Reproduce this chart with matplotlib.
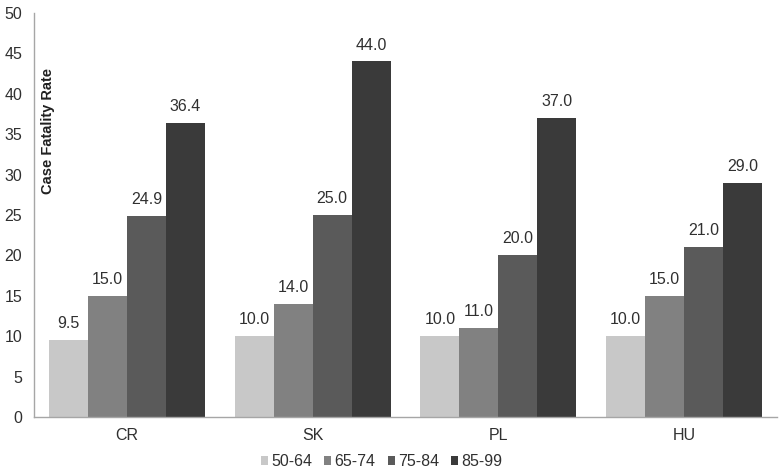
import matplotlib
matplotlib.use("Agg")
import matplotlib.pyplot as plt
import numpy as np

countries = ["CR", "SK", "PL", "HU"]
age_groups = ["50-64", "65-74", "75-84", "85-99"]
v_50_64 = [9.5, 10.0, 10.0, 10.0]
v_65_74 = [15.0, 14.0, 11.0, 15.0]
v_75_84 = [24.9, 25.0, 20.0, 21.0]
v_85_99 = [36.4, 44.0, 37.0, 29.0]
series = [v_50_64, v_65_74, v_75_84, v_85_99]
colors = ["#c8c8c8", "#818181", "#5a5a5a", "#3a3a3a"]

plt.rcParams['font.family'] = ['Liberation Sans', 'DejaVu Sans']

fig = plt.figure(figsize=(7.82, 4.76), dpi=100)
ax = fig.add_axes([0.0435, 0.124, 0.950, 0.8487])

x = np.arange(len(countries))
bw = 0.21
for i, (vals, c, lab) in enumerate(zip(series, colors, age_groups)):
    pos = x + (i - 1.5) * bw
    ax.bar(pos, vals, width=bw, color=c, label=lab, zorder=2)
    for p, v in zip(pos, vals):
        ax.text(p, v + 1.1, f"{v:.1f}", ha="center", va="bottom",
                fontsize=11.5, color="#303030")

ax.set_xlim(-0.5, len(countries) - 0.5)
ax.set_ylim(0, 50)
ax.set_yticks(np.arange(0, 51, 5))
ax.set_xticks(x)
ax.set_xticklabels(countries)
ax.tick_params(axis="both", length=0, labelsize=11.5, labelcolor="#303030")
ax.tick_params(axis="x", pad=8)
ax.tick_params(axis="y", pad=8.5)
for s in ["top", "right"]:
    ax.spines[s].set_visible(False)
for s in ["left", "bottom"]:
    ax.spines[s].set_color("#a6a6a6")
    ax.spines[s].set_linewidth(1)

ax.text(0.019, 0.708, "Case Fatality Rate", transform=ax.transAxes,
        rotation=90, ha="center", va="center", fontsize=10.5,
        fontweight="bold", color="#202020")

leg = fig.legend(loc="center", bbox_to_anchor=(0.488, 0.03), ncol=4,
                 frameon=False, fontsize=11.5, handlelength=0.45, handleheight=0.45,
                 handletextpad=0.2, columnspacing=0.75, borderpad=0, borderaxespad=0)
for t in leg.get_texts():
    t.set_color("#303030")

fig.savefig("out.png", dpi=100)
